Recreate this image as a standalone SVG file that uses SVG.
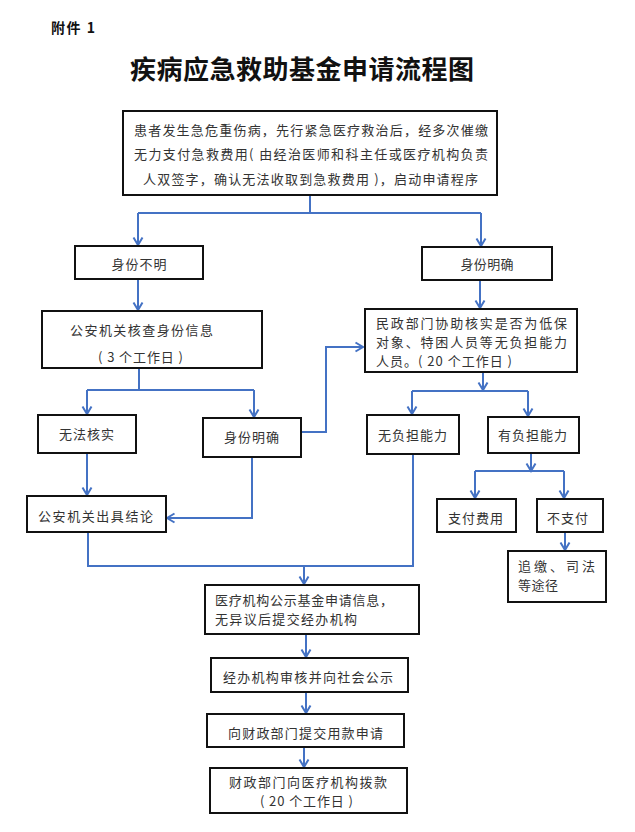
<svg xmlns="http://www.w3.org/2000/svg" width="635" height="832" viewBox="0 0 635 832">
<style>
.bg{fill:#ffffff}
.box{fill:#ffffff;stroke:#111111;stroke-width:2}
.t{font-family:"Noto Sans CJK SC","Liberation Sans",sans-serif;font-size:13px;fill:#333333}
.c{text-anchor:middle}
.head{font-family:"Noto Sans CJK SC","Liberation Sans",sans-serif;font-weight:bold;fill:#111111}
.ln{fill:none;stroke:#4472C4;stroke-width:2}
.arr{marker-end:url(#ah)}
</style>
<defs>
<marker id="ah" markerUnits="userSpaceOnUse" markerWidth="12" markerHeight="12" viewBox="0 0 12 12" refX="10.5" refY="6" orient="auto">
<path d="M3,1.5 L10.5,6 L3,10.5" fill="none" stroke="#4472C4" stroke-width="2"/>
</marker>
</defs>
<rect class="bg" x="0" y="0" width="635" height="832"/>
<text class="head" x="51" y="33" font-size="14" textLength="44" lengthAdjust="spacing">附件 1</text>
<text class="head c" x="302" y="79" font-size="26" textLength="344" lengthAdjust="spacing">疾病应急救助基金申请流程图</text>

<g id="connectors">
<path class="ln" d="M310,195 V213 M138,213 H481"/>
<path class="ln arr" d="M138,213 V245"/>
<path class="ln arr" d="M481,213 V246"/>
<path class="ln arr" d="M138,279 V310"/>
<path class="ln" d="M139,368 V390 M87,390 H254"/>
<path class="ln arr" d="M87,390 V414"/>
<path class="ln arr" d="M254,390 V417"/>
<path class="ln arr" d="M301,432 H326 V347 H363"/>
<path class="ln arr" d="M87,453 V495"/>
<path class="ln arr" d="M252,457 V518 H167"/>
<path class="ln arr" d="M480,280 V308"/>
<path class="ln arr" d="M483,372 V390"/>
<path class="ln" d="M412,391 H528"/>
<path class="ln arr" d="M412,391 V414"/>
<path class="ln arr" d="M528,391 V416"/>
<path class="ln arr" d="M531,453 V471"/>
<path class="ln" d="M475,471 H564"/>
<path class="ln arr" d="M475,471 V498"/>
<path class="ln arr" d="M564,471 V498"/>
<path class="ln arr" d="M565,532 V550"/>
<path class="ln" d="M88,532 V566 H413 V455"/>
<path class="ln arr" d="M304,566 V584"/>
<path class="ln arr" d="M306,634 V657"/>
<path class="ln arr" d="M306,692 V713"/>
<path class="ln arr" d="M304,747 V767"/>
</g>

<g id="start">
<rect class="box" x="123" y="111" width="374" height="84"/>
<text class="t" x="134" y="135" textLength="354" lengthAdjust="spacing">患者发生急危重伤病，先行紧急医疗救治后，经多次催缴</text>
<text class="t" x="134" y="159" textLength="354" lengthAdjust="spacing">无力支付急救费用( 由经治医师和科主任或医疗机构负责</text>
<text class="t" x="143" y="184" textLength="335" lengthAdjust="spacing">人双签字，确认无法收取到急救费用 )，启动申请程序</text>
</g>

<g id="unknown-id">
<rect class="box" x="75" y="246" width="128" height="33"/>
<text class="t c" x="139" y="269" textLength="55" lengthAdjust="spacing">身份不明</text>
</g>

<g id="known-id">
<rect class="box" x="422" y="247" width="130" height="33"/>
<text class="t c" x="487" y="269" textLength="53" lengthAdjust="spacing">身份明确</text>
</g>

<g id="police-check">
<rect class="box" x="42" y="311" width="220" height="57"/>
<text class="t c" x="141.5" y="335" textLength="143" lengthAdjust="spacing">公安机关核查身份信息</text>
<text class="t c" x="140.5" y="362" textLength="85" lengthAdjust="spacing">( 3 个工作日 )</text>
</g>

<g id="cannot-verify">
<rect class="box" x="38" y="415" width="98" height="38"/>
<text class="t c" x="86.5" y="439" textLength="55" lengthAdjust="spacing">无法核实</text>
</g>

<g id="id-confirmed">
<rect class="box" x="203" y="418" width="98" height="39"/>
<text class="t c" x="251.5" y="442" textLength="55" lengthAdjust="spacing">身份明确</text>
</g>

<g id="police-conclusion">
<rect class="box" x="27" y="496" width="139" height="36"/>
<text class="t c" x="95.5" y="521" textLength="115" lengthAdjust="spacing">公安机关出具结论</text>
</g>

<g id="civil-affairs">
<rect class="box" x="365" y="309" width="212" height="63"/>
<text class="t" x="376" y="328" textLength="191" lengthAdjust="spacing">民政部门协助核实是否为低保</text>
<text class="t" x="376" y="347" textLength="191" lengthAdjust="spacing">对象、特困人员等无负担能力</text>
<text class="t" x="376" y="366" textLength="136" lengthAdjust="spacing">人员。( 20 个工作日 )</text>
</g>

<g id="no-ability">
<rect class="box" x="367" y="415" width="92" height="39"/>
<text class="t c" x="412.5" y="440" textLength="69" lengthAdjust="spacing">无负担能力</text>
</g>

<g id="has-ability">
<rect class="box" x="488" y="417" width="91" height="36"/>
<text class="t c" x="532.5" y="440" textLength="69" lengthAdjust="spacing">有负担能力</text>
</g>

<g id="pay">
<rect class="box" x="437" y="499" width="79" height="33"/>
<text class="t c" x="475.5" y="523" textLength="55" lengthAdjust="spacing">支付费用</text>
</g>

<g id="not-pay">
<rect class="box" x="537" y="499" width="66" height="33"/>
<text class="t c" x="567.5" y="523" textLength="41" lengthAdjust="spacing">不支付</text>
</g>

<g id="recover">
<rect class="box" x="508" y="551" width="98" height="51"/>
<text class="t" x="518" y="571" textLength="77" lengthAdjust="spacing">追缴、司法</text>
<text class="t" x="518" y="590" textLength="40" lengthAdjust="spacing">等途径</text>
</g>

<g id="hospital-publish">
<rect class="box" x="205" y="585" width="214" height="49"/>
<text class="t" x="215" y="605" textLength="178" lengthAdjust="spacing">医疗机构公示基金申请信息，</text>
<text class="t" x="215" y="624" textLength="142" lengthAdjust="spacing">无异议后提交经办机构</text>
</g>

<g id="agency-review">
<rect class="box" x="211" y="658" width="197" height="34"/>
<text class="t c" x="308" y="682" textLength="170" lengthAdjust="spacing">经办机构审核并向社会公示</text>
</g>

<g id="submit-finance">
<rect class="box" x="207" y="714" width="197" height="33"/>
<text class="t c" x="305.5" y="738" textLength="155" lengthAdjust="spacing">向财政部门提交用款申请</text>
</g>

<g id="finance-pay">
<rect class="box" x="210" y="768" width="197" height="45"/>
<text class="t c" x="308" y="787" textLength="158" lengthAdjust="spacing">财政部门向医疗机构拨款</text>
<text class="t c" x="306.5" y="806" textLength="93" lengthAdjust="spacing">( 20 个工作日 )</text>
</g>
</svg>
